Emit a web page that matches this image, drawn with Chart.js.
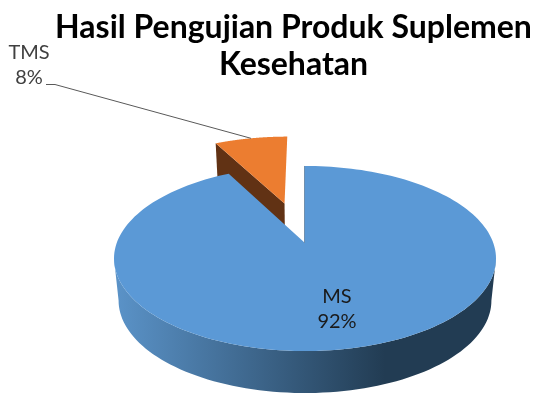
<!DOCTYPE html>
<html>
<head>
<meta charset="utf-8">
<title>Hasil Pengujian Produk Suplemen Kesehatan</title>
<script src="https://cdn.jsdelivr.net/npm/chart.js@4"></script>
<style>
  html, body { margin: 0; padding: 0; background: #fff; }
  canvas { display: block; }
</style>
</head>
<body>
<canvas id="grafik" width="533" height="394"></canvas>
<script>
// Datos de la gráfica
const categorias = ["MS", "TMS"];
const valores = [92.3, 7.7];
const titulo = ["Hasil Pengujian Produk Suplemen", "Kesehatan"];

// Estilo de cada rebanada
const coloresCara = ["#5b99d6", "#ec7d30"];
const separacion = [0, 0.49];

// Perspectiva del pastel 3D
const vista = { cx: 305, cy: 243, sx: 188.3, sy: -49.2, k: 0.1676, fondo: 42, estrechar: 0.976 };

// Pasa un punto del círculo unidad a la pantalla
function proyectar(u, v, abajo) {
  const den = 1 + vista.k * v;
  const esc = abajo ? vista.estrechar : 1;
  return {
    x: vista.cx + ((vista.sx * u) / den) * esc,
    y: (vista.cy + vista.sy * v) / den + (abajo ? vista.fondo : 0),
  };
}

function trazar(ctx, puntos) {
  ctx.beginPath();
  puntos.forEach((p, i) => (i ? ctx.lineTo(p.x, p.y) : ctx.moveTo(p.x, p.y)));
  ctx.closePath();
}

// Puntos del borde exterior de una rebanada, con su separación
function borde(arco, i) {
  const medio = (arco.startAngle + arco.endAngle) / 2;
  const du = Math.cos(medio) * separacion[i];
  const dv = -Math.sin(medio) * separacion[i];
  const puntos = [];
  const pasos = 180;
  for (let p = 0; p <= pasos; p++) {
    const a = arco.startAngle + ((arco.endAngle - arco.startAngle) * p) / pasos;
    puntos.push({ u: Math.cos(a) + du, v: -Math.sin(a) + dv });
  }
  return { puntos, du, dv };
}

function dibujarRebanada(ctx, arco, i) {
  const { puntos, du, dv } = borde(arco, i);

  if (i === 1) {
    // Cara lateral del corte de la rebanada separada
    const externo = puntos[0];
    trazar(ctx, [
      proyectar(externo.u, externo.v),
      proyectar(du, dv),
      proyectar(du, dv, true),
      proyectar(externo.u, externo.v, true),
    ]);
    ctx.fillStyle = "#613214";
    ctx.fill();
  } else {
    // Pared frontal con degradado
    const frente = puntos.filter((p) => p.v < -vista.k);
    const pared = frente
      .map((p) => proyectar(p.u, p.v))
      .concat(frente.slice().reverse().map((p) => proyectar(p.u, p.v, true)));
    const grad = ctx.createLinearGradient(118, 0, 385, 0);
    grad.addColorStop(0, "#5a92c7");
    grad.addColorStop(1, "#223c53");
    trazar(ctx, pared);
    ctx.fillStyle = grad;
    ctx.fill();
  }

  // Cara superior
  trazar(ctx, [proyectar(du, dv)].concat(puntos.map((p) => proyectar(p.u, p.v))));
  ctx.fillStyle = coloresCara[i];
  ctx.fill();
}

const pastel3D = {
  id: "pastel3D",
  beforeDatasetsDraw(chart) {
    const ctx = chart.ctx;
    const arcos = chart.getDatasetMeta(0).data;
    ctx.save();

    // Primero la rebanada separada, el resto la tapa
    dibujarRebanada(ctx, arcos[1], 1);
    dibujarRebanada(ctx, arcos[0], 0);

    // Borde fino del corte vertical
    const { puntos } = borde(arcos[0], 0);
    const a = proyectar(0, 0);
    const b = proyectar(puntos[0].u, puntos[0].v);
    ctx.strokeStyle = "#6f8fae";
    ctx.lineWidth = 1;
    ctx.beginPath();
    ctx.moveTo(a.x - 0.5, a.y);
    ctx.lineTo(b.x - 0.5, b.y);
    ctx.stroke();

    // Línea guía de TMS
    const medio = (arcos[1].startAngle + arcos[1].endAngle) / 2;
    const f = 1 + separacion[1];
    const fin = proyectar(Math.cos(medio) * f, -Math.sin(medio) * f);
    ctx.strokeStyle = "#595959";
    ctx.beginPath();
    ctx.moveTo(46, 84.5);
    ctx.lineTo(55, 84.5);
    ctx.lineTo(fin.x, fin.y);
    ctx.stroke();

    // Etiquetas
    const total = valores.reduce((s, n) => s + n, 0);
    const etiquetas = [
      { x: 337, y: 297, color: "#1a1a1a" },
      { x: 29, y: 53, color: "#404040" },
    ];
    ctx.font = "20px Lato";
    ctx.textAlign = "center";
    ctx.textBaseline = "middle";
    categorias.forEach((c, i) => {
      ctx.fillStyle = etiquetas[i].color;
      ctx.fillText(c, etiquetas[i].x, etiquetas[i].y);
      ctx.fillText(Math.round((valores[i] / total) * 100) + "%", etiquetas[i].x, etiquetas[i].y + 25);
    });

    ctx.restore();
    return false;
  },
};

new Chart(document.getElementById("grafik").getContext("2d"), {
  type: "pie",
  data: {
    labels: categorias,
    datasets: [{ data: valores, backgroundColor: coloresCara, borderWidth: 0 }],
  },
  options: {
    responsive: false,
    animation: false,
    layout: { padding: { left: 54 } },
    plugins: {
      legend: { display: false },
      tooltip: { enabled: false },
      title: {
        display: true,
        text: titulo,
        fullSize: false,
        color: "#000",
        font: { family: "Lato", size: 32, weight: "bold", lineHeight: 1.13 },
        padding: { top: 10, bottom: 0 },
      },
    },
  },
  plugins: [pastel3D],
});
</script>
</body>
</html>
